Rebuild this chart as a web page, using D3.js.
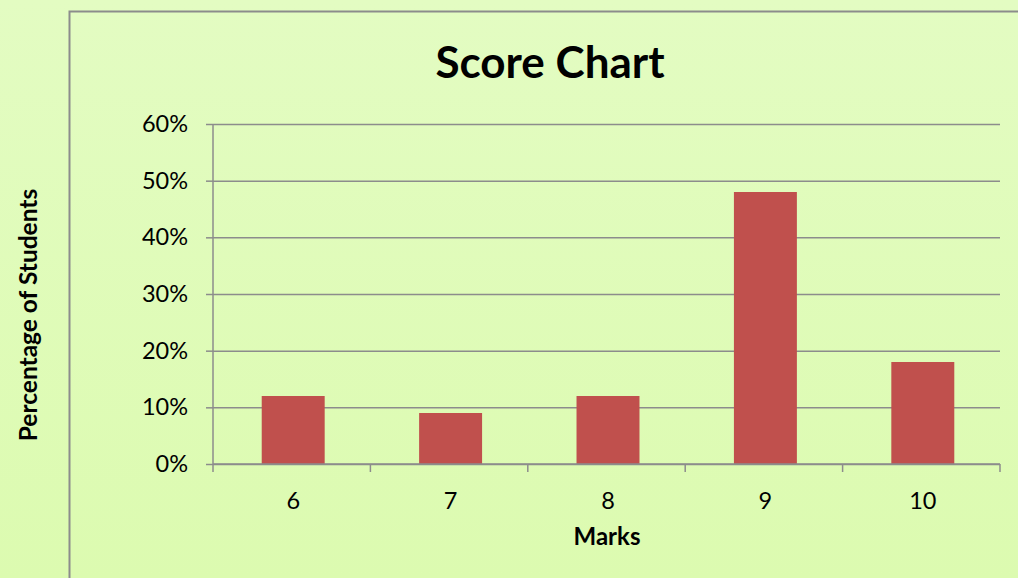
<!DOCTYPE html>
<meta charset="utf-8">
<head>
<style>
body { margin: 0; }
.axis text { font: 23.5px Lato, sans-serif; fill: #000; }
.axis path, .axis line { stroke: #8c8c8c; stroke-width: 1.5; fill: none; }
.grid line { stroke: #8c8c8c; stroke-width: 1.5; }
.grid path { display: none; }
</style>
</head>
<body>
<script src="https://cdnjs.cloudflare.com/ajax/libs/d3/7.8.5/d3.min.js"></script>
<script>

// data
var marks = ["6", "7", "8", "9", "10"];
var percents = [12, 9, 12, 48, 18];
var yTicks = [0, 10, 20, 30, 40, 50, 60];

var W = 1018, H = 578;
var margin = { top: 124, right: 18, bottom: 114, left: 213 };
var width = W - margin.left - margin.right,
    height = H - margin.top - margin.bottom;

var svg = d3.select("body").append("svg")
    .attr("width", W)
    .attr("height", H);

// light green background
var grad = svg.append("defs").append("linearGradient")
    .attr("id", "bg").attr("x1", 0).attr("y1", 0).attr("x2", 0).attr("y2", 1);
grad.append("stop").attr("offset", "0%").attr("stop-color", "#e3fcc2");
grad.append("stop").attr("offset", "100%").attr("stop-color", "#dcfbb0");
svg.append("rect").attr("width", W).attr("height", H).attr("fill", "url(#bg)");

// chart area border (left and top visible)
svg.append("path")
    .attr("d", "M69.5," + H + "V11.5H" + W)
    .attr("fill", "none")
    .attr("stroke", "#8c8c8c")
    .attr("stroke-width", 2);

var g = svg.append("g")
    .attr("transform", "translate(" + margin.left + "," + margin.top + ")");

// bars sit a touch right of band centre in the original
var x = d3.scaleBand().domain(marks).range([1.5, width + 1.5]).paddingInner(0.6).paddingOuter(0.3);
var y = d3.scaleLinear().domain([0, 60]).range([height, 0]);

// gridlines
g.append("g")
    .attr("class", "grid")
    .call(d3.axisLeft(y).tickValues(yTicks).tickSize(-width).tickFormat(""));

// bars
g.selectAll(".bar")
    .data(percents)
    .enter().append("rect")
    .attr("class", "bar")
    .attr("x", function (d, i) { return x(marks[i]); })
    .attr("y", function (d) { return y(d); })
    .attr("width", x.bandwidth())
    .attr("height", function (d) { return height - y(d); })
    .attr("fill", "#c0504d");

// y axis
var yAxis = g.append("g")
    .attr("class", "axis")
    .call(d3.axisLeft(y).tickValues(yTicks).tickSize(7).tickPadding(18)
        .tickFormat(function (d) { return d + "%"; }));
yAxis.select(".domain").attr("d", "M0,0V" + height);

// x axis: category boundary ticks + centred labels
var step = width / marks.length;
var xAxis = g.append("g")
    .attr("class", "axis")
    .attr("transform", "translate(0," + height + ")");
xAxis.append("line").attr("x1", 0).attr("x2", width).attr("y1", 0).attr("y2", 0);
xAxis.selectAll(".bt")
    .data(d3.range(marks.length + 1))
    .enter().append("line")
    .attr("class", "bt")
    .attr("x1", function (i) { return i * step; })
    .attr("x2", function (i) { return i * step; })
    .attr("y1", 0).attr("y2", 8);
xAxis.selectAll(".lbl")
    .data(marks)
    .enter().append("text")
    .attr("class", "lbl")
    .attr("x", function (d) { return x(d) + x.bandwidth() / 2; })
    .attr("y", 45)
    .attr("text-anchor", "middle")
    .text(function (d) { return d; });

// title
svg.append("text")
    .attr("x", 550).attr("y", 78)
    .attr("text-anchor", "middle")
    .style("font", "bold 44px Lato, sans-serif")
    .text("Score Chart");

// axis titles
svg.append("text")
    .attr("x", 607).attr("y", 545)
    .attr("text-anchor", "middle")
    .style("font", "bold 24px Lato, sans-serif")
    .text("Marks");

svg.append("text")
    .attr("transform", "translate(37,315) rotate(-90)")
    .attr("text-anchor", "middle")
    .style("font", "bold 24.5px Lato, sans-serif")
    .text("Percentage of Students");

</script>
</body>
